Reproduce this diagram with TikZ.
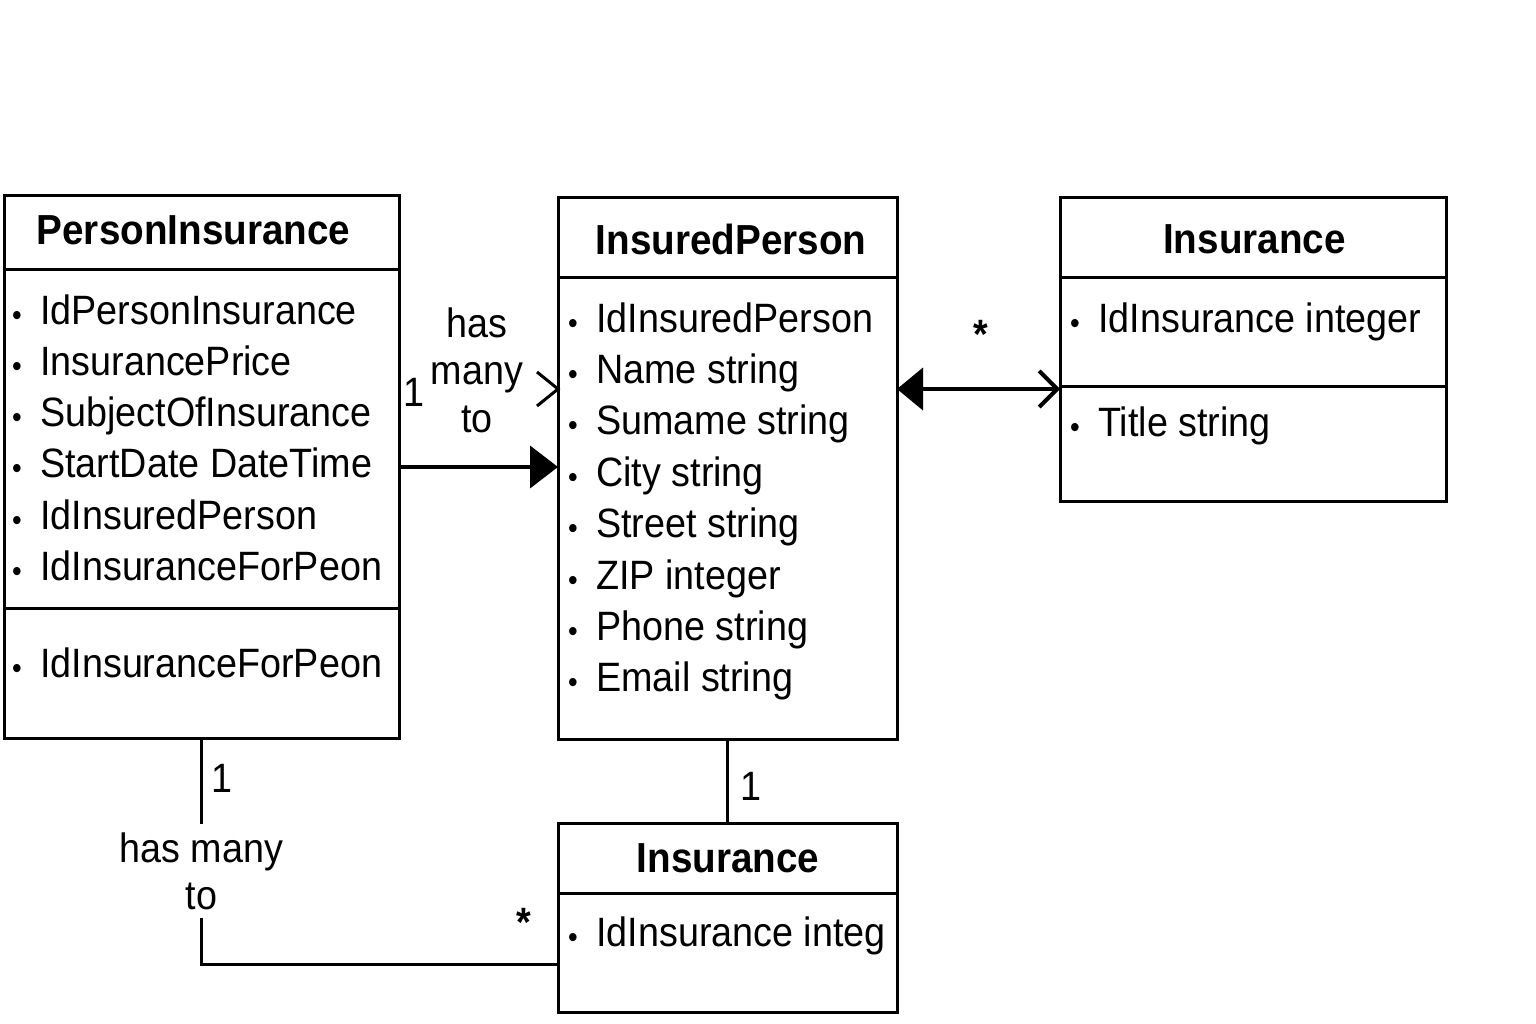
\documentclass[tikz,border=0pt]{standalone}
\usepackage{fontspec}
\setmainfont{Liberation Sans}[FakeStretch=0.92]
\usetikzlibrary{arrows.meta,calc}
\newcommand{\bigfont}{\fontsize{41}{47.5}\selectfont}
\newcommand{\titlefont}{\fontsize{42}{47.5}\selectfont\bfseries}
\newcommand{\bul}{\makebox[12.65pt]{\raisebox{-1pt}{\fontsize{30}{30}\selectfont\textbullet}}\hspace{17pt}}
\begin{document}
\begin{tikzpicture}[x=1pt,y=-1pt,
  box/.style={draw, line width=3pt, rectangle, inner sep=0pt, outer sep=0pt},
  divider/.style={line width=3pt},
  ttl/.style={font=\titlefont, anchor=base, inner sep=0pt},
  attr/.style={font=\bigfont, anchor=base west, inner sep=0pt},
  lbl/.style={font=\bigfont, anchor=base, inner sep=0pt},
  multilbl/.style={font=\bigfont, align=center, anchor=north, inner sep=0pt},
  conn/.style={line width=3pt},
  aconn/.style={line width=4pt},
]
\useasboundingbox[fill=white] (0,0) rectangle (1536,1024);

% ---------- boxes ----------
\node[box, minimum width=395pt, minimum height=542pt] (PI) at (201.5,467) {};
\node[box, minimum width=339pt, minimum height=541pt] (IP) at (727.5,468.5) {};
\node[box, minimum width=386pt, minimum height=303pt] (INS1) at (1253,349.5) {};
\node[box, minimum width=339pt, minimum height=189pt] (INS2) at (727.5,917.5) {};

% dividers
\draw[divider] (PI.west |- 0,270) -- (PI.east |- 0,270);
\draw[divider] (PI.west |- 0,608) -- (PI.east |- 0,608);
\draw[divider] (IP.west |- 0,278) -- (IP.east |- 0,278);
\draw[divider] (INS1.west |- 0,278) -- (INS1.east |- 0,278);
\draw[divider] (INS1.west |- 0,386) -- (INS1.east |- 0,386);
\draw[divider] (INS2.west |- 0,893) -- (INS2.east |- 0,893);

% titles
\node[ttl] (PIt) at (193.5,245) {PersonInsurance};
\node[ttl] (IPt) at (731,255) {InsuredPerson};
\node[ttl] (INS1t) at (1254.5,254) {Insurance};
\node[ttl] (INS2t) at (728,872) {Insurance};

% PersonInsurance attributes
\node[attr] (pa1) at (10.4,324) {\bul IdPersonInsurance};
\node[attr] (pa2) at (10.4,375.3) {\bul InsurancePrice};
\node[attr] (pa3) at (10.4,426.6) {\bul SubjectOfInsurance};
\node[attr] (pa4) at (10.4,477.9) {\bul StartDate DateTime};
\node[attr] (pa5) at (10.4,529.2) {\bul IdInsuredPerson};
\node[attr] (pa6) at (10.4,580.5) {\bul IdInsuranceForPeon};
\node[attr] (pa7) at (10.4,677) {\bul IdInsuranceForPeon};

% InsuredPerson attributes
\node[attr] (ia1) at (566.4,332) {\bul IdInsuredPerson};
\node[attr] (ia2) at (566.4,383.4) {\bul Name string};
\node[attr] (ia3) at (566.4,434.8) {\bul Sumame string};
\node[attr] (ia4) at (566.4,486.2) {\bul City string};
\node[attr] (ia5) at (566.4,537.6) {\bul Street string};
\node[attr] (ia6) at (566.4,589) {\bul ZIP integer};
\node[attr] (ia7) at (566.4,640.4) {\bul Phone string};
\node[attr] (ia8) at (566.4,691.8) {\bul Email string};

% Insurance (right) attributes
\node[attr] (ra1) at (1068.4,332) {\bul IdInsurance integer};
\node[attr] (ra2) at (1068.4,436) {\bul Title string};

% Insurance (bottom) attributes
\node[attr] (ba1) at (566.4,946) {\bul IdInsurance integ};

% ---------- connectors ----------
% PersonInsurance -> InsuredPerson
\draw[aconn, -{Triangle[length=28pt,width=42pt]}] (PI.east) -- (PI.east -| IP.west);
\node[multilbl] (hm1) at (477,307.3) {has\\many\\to};
\node[lbl] (one1) at (414,406) {1};
\coordinate (chev) at (IP.west |- 0,389);
\draw[conn] ($(chev)+(-21,-17)$) -- (chev) -- ($(chev)+(-21,17)$);

% InsuredPerson <-> Insurance (right)
\coordinate (r2) at (0,389);
\draw[aconn, {Triangle[length=26pt,width=42pt]}-{Straight Barb[length=18pt,width=36pt]}] (IP.east |- r2) -- (INS1.west |- r2);
\node[lbl] (star1) at (981,348) {\bfseries *};

% PersonInsurance -- Insurance (bottom)
\node[multilbl, outer ysep=8pt] (hm2) at (201.5,824.3) {has many\\to};
\coordinate (c3) at ($(INS2.south west)!0.25!(INS2.north west)$);
\draw[conn] (PI.south) -- (hm2.north);
\draw[conn] (hm2.south) |- (c3);
\node[lbl] (one2) at (222,792) {1};
\node[lbl] (star2) at (524,936) {\bfseries *};

% InsuredPerson -- Insurance (bottom)
\draw[conn] (IP.south) -- (INS2.north);
\node[lbl] (one3) at (751,800) {1};
\end{tikzpicture}
\end{document}
